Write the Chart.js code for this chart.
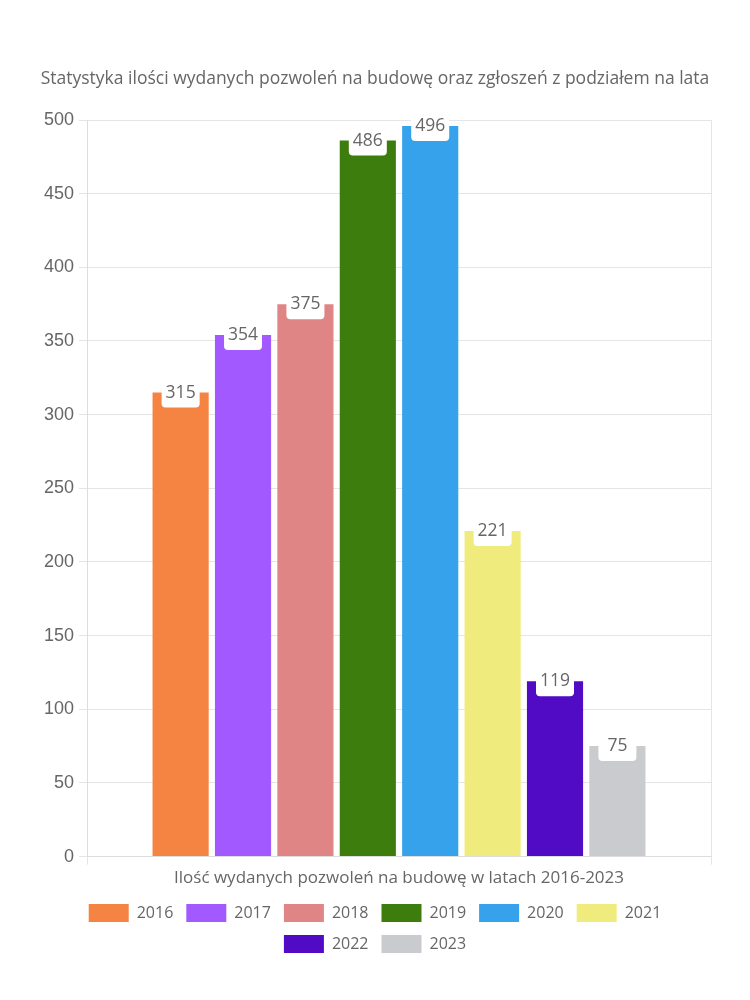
<!DOCTYPE html>
<html>
<head>
<meta charset="utf-8">
<script src="https://cdn.jsdelivr.net/npm/chart.js@4"></script>
<style>
  html, body { margin: 0; padding: 0; background: #fff; }
  #wrap { width: 750px; height: 1000px; }
</style>
</head>
<body>
<div id="wrap"><canvas id="permitsChart" width="750" height="1000"></canvas></div>
<script>
const categories = ['Ilość wydanych pozwoleń na budowę w latach 2016-2023'];
const years = ['2016', '2017', '2018', '2019', '2020', '2021', '2022', '2023'];
const permits = [315, 354, 375, 486, 496, 221, 119, 75];
const barColors = ['#F58442', '#A259FF', '#E08585', '#3D7D0D', '#36A2EB', '#F0EB7D', '#510BC4', '#C9CBCF'];

const roundFont = "'Open Sans', Lato, sans-serif";
const textColor = '#666';

// white tab with the value, hanging over the bar top
const valueTabs = {
  id: 'valueTabs',
  afterDatasetsDraw(chart) {
    const ctx = chart.ctx;
    ctx.save();
    ctx.font = '17.5px ' + roundFont;
    ctx.textAlign = 'center';
    ctx.textBaseline = 'middle';
    chart.data.datasets.forEach((ds, i) => {
      const meta = chart.getDatasetMeta(i);
      if (meta.hidden) return;
      meta.data.forEach((bar, j) => {
        const w = 38, top = bar.y - 14, h = 29;
        ctx.fillStyle = '#fff';
        ctx.beginPath();
        ctx.roundRect(bar.x - w / 2, top, w, h, [0, 0, 4, 4]);
        ctx.fill();
        ctx.fillStyle = textColor;
        ctx.fillText(String(ds.data[j]), bar.x, bar.y);
      });
    });
    ctx.restore();
  }
};

new Chart(document.getElementById('permitsChart'), {
  type: 'bar',
  data: {
    labels: categories,
    datasets: years.map((y, i) => ({
      label: y,
      data: [permits[i]],
      backgroundColor: barColors[i],
      barPercentage: 0.9,
      categoryPercentage: 0.8
    }))
  },
  options: {
    responsive: false,
    animation: false,
    layout: { padding: { top: 69, left: 39, right: 39, bottom: 37 } },
    plugins: {
      title: {
        display: true,
        text: 'Statystyka ilości wydanych pozwoleń na budowę oraz zgłoszeń z podziałem na lata',
        color: textColor,
        font: { family: roundFont, size: 17.5, weight: 'normal' },
        padding: { top: 0, bottom: 30 }
      },
      legend: {
        position: 'bottom',
        labels: {
          boxWidth: 40,
          boxHeight: 18,
          padding: 13,
          color: textColor,
          font: { family: roundFont, size: 16, lineHeight: 1.05 }
        }
      },
      tooltip: { enabled: false }
    },
    scales: {
      x: {
        grid: { color: '#e5e5e5', tickLength: 8 },
        border: { color: '#ddd' },
        ticks: { color: textColor, font: { family: roundFont, size: 17 } }
      },
      y: {
        min: 0,
        max: 500,
        ticks: { stepSize: 50, color: textColor, font: { size: 18 }, padding: 5 },
        grid: { color: '#e5e5e5', tickLength: 8 },
        border: { color: '#ddd' }
      }
    }
  },
  plugins: [valueTabs]
});
</script>
</body>
</html>
